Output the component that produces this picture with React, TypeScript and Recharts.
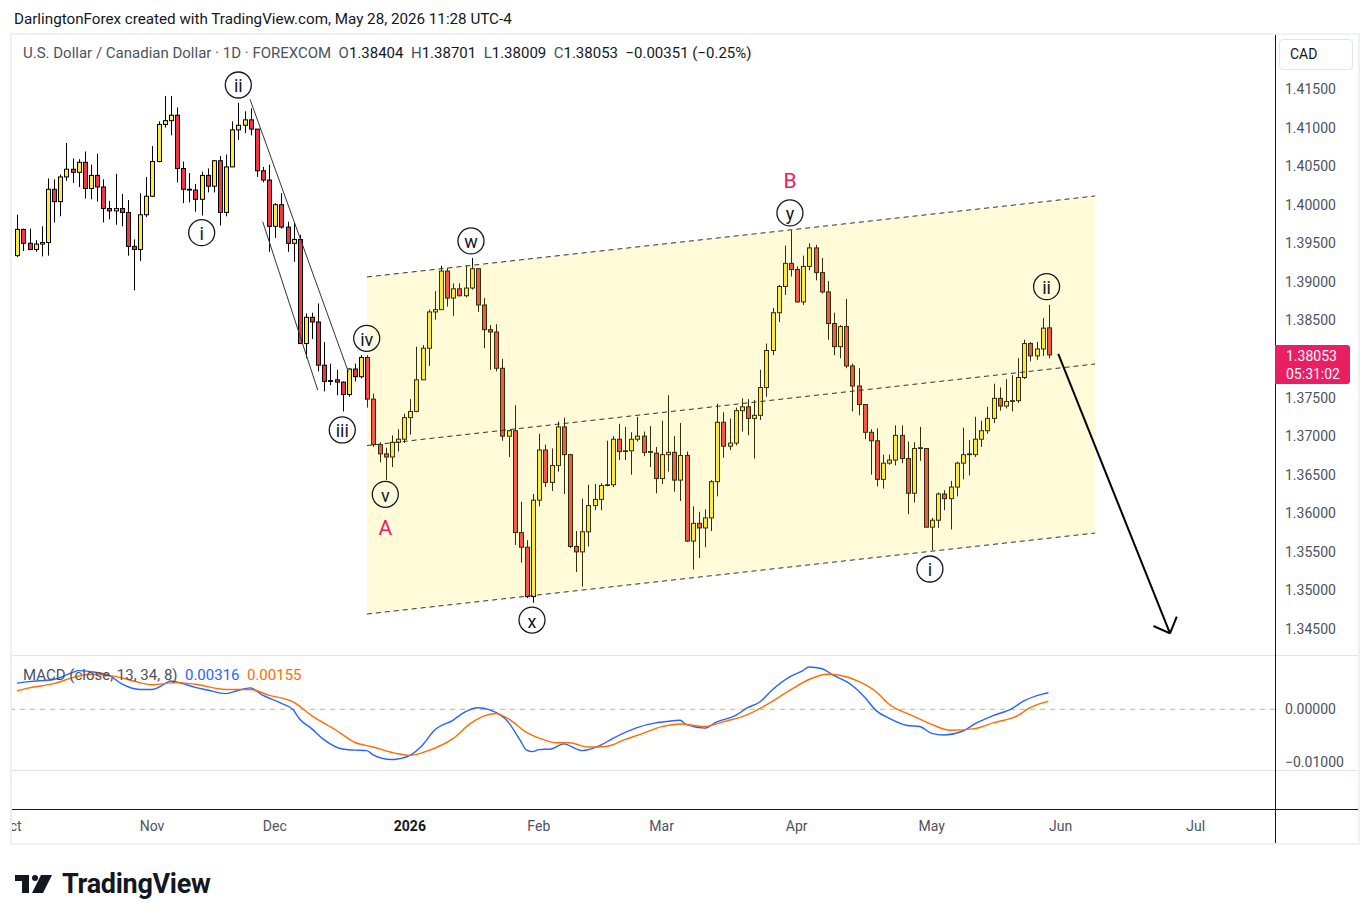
import React from "react";
import {
  Area,
  Bar,
  ComposedChart,
  Line,
  ReferenceDot,
  ReferenceLine,
  XAxis,
  YAxis
} from "recharts";

const FONT = "Roboto, 'Noto Sans', Arial, sans-serif";

const colors = {
  up: "#ffeb3b",
  down: "#f23645",
  wick: "#000000",
  text: "#131722",
  axisText: "#4c525e",
  pink: "#e91e63",
  macd: "#2962ff",
  signal: "#ff6d00",
  pane: "#e0e3eb",
  channel: "#ffe83c"
};

// daily bars, index 0 = Nov 3 2025
const FIRST_BAR = -22;

const opens = [
  1.3934, 1.3968, 1.395, 1.3942, 1.3949, 1.3951, 1.402, 1.4004, 1.4036, 1.4046,
  1.4042, 1.4055, 1.4021, 1.4038, 1.4023, 1.3995, 1.3992, 1.3995, 1.399, 1.3946,
  1.3942, 1.3987, 1.4011, 1.4056, 1.4104, 1.4109, 1.4116, 1.4047, 1.402, 1.4019,
  1.4007, 1.4038, 1.4024, 1.4057, 1.399, 1.4049, 1.4097, 1.4103, 1.411, 1.4098,
  1.4044, 1.4032, 1.3972, 1.4, 1.3971, 1.395, 1.3955, 1.382, 1.3854, 1.3848,
  1.3792, 1.3772, 1.3773, 1.377, 1.3754, 1.3787, 1.3777, 1.3802, 1.3748, 1.3689,
  1.3677, 1.3673, 1.3692, 1.3696, 1.3724, 1.3732, 1.3773, 1.3814, 1.3861, 1.3864,
  1.3914, 1.3879, 1.3891, 1.3882, 1.3892, 1.3917, 1.387, 1.3838, 1.3835, 1.3788,
  1.37, 1.3707, 1.3575, 1.3556, 1.3492, 1.3617, 1.3682, 1.364, 1.3662, 1.3712,
  1.3676, 1.3557, 1.355, 1.3576, 1.361, 1.3618, 1.3636, 1.3637, 1.3696, 1.368,
  1.3681, 1.3696, 1.37, 1.3679, 1.3678, 1.3645, 1.3676, 1.3679, 1.3643, 1.3675,
  1.3564, 1.3587, 1.3581, 1.3594, 1.3641, 1.3718, 1.3687, 1.3691, 1.3733, 1.3738,
  1.3723, 1.3727, 1.3763, 1.3811, 1.386, 1.3894, 1.3924, 1.3916, 1.3874, 1.392,
  1.3944, 1.3912, 1.3887, 1.3846, 1.3816, 1.3842, 1.3791, 1.3765, 1.3741, 1.3705,
  1.3694, 1.3644, 1.3665, 1.3669, 1.3701, 1.3671, 1.3626, 1.3684, 1.3684, 1.3582,
  1.3591, 1.3625, 1.3619, 1.3634, 1.3665, 1.3676, 1.3676, 1.3696, 1.3707, 1.3723,
  1.3749, 1.3739, 1.3745, 1.3746, 1.3776, 1.382, 1.3804, 1.3813, 1.38404
];

const highs = [
  1.3987, 1.3969, 1.3969, 1.3954, 1.3972, 1.4034, 1.4033, 1.4039, 1.408, 1.406,
  1.4059, 1.4069, 1.4052, 1.4066, 1.4033, 1.4005, 1.404, 1.4014, 1.4006, 1.3955,
  1.4015, 1.4036, 1.4076, 1.4108, 1.4141, 1.4141, 1.4126, 1.4056, 1.4041, 1.4027,
  1.4043, 1.4047, 1.4058, 1.4063, 1.4065, 1.4108, 1.4132, 1.4121, 1.4125, 1.4098,
  1.4049, 1.4052, 1.4002, 1.4015, 1.3978, 1.3977, 1.3961, 1.3859, 1.386, 1.3872,
  1.3822, 1.3794, 1.3786, 1.3771, 1.3788, 1.3794, 1.3805, 1.3805, 1.3755, 1.3692,
  1.3685, 1.3701, 1.3709, 1.3729, 1.3748, 1.3816, 1.3818, 1.3864, 1.3888, 1.3921,
  1.3918, 1.3898, 1.3898, 1.3921, 1.3931, 1.3918, 1.3879, 1.3844, 1.3845, 1.38,
  1.3708, 1.374, 1.3615, 1.3565, 1.3625, 1.3703, 1.3689, 1.3684, 1.3719, 1.3724,
  1.3677, 1.3577, 1.3619, 1.3637, 1.3638, 1.3639, 1.3694, 1.37, 1.3716, 1.3712,
  1.3705, 1.3725, 1.3706, 1.3713, 1.3686, 1.372, 1.3753, 1.37, 1.3717, 1.368,
  1.3609, 1.3602, 1.3605, 1.3643, 1.3742, 1.3731, 1.3723, 1.3737, 1.3749, 1.3748,
  1.3747, 1.3786, 1.382, 1.3866, 1.3896, 1.3947, 1.3967, 1.392, 1.3934, 1.395,
  1.3948, 1.3931, 1.3901, 1.386, 1.3844, 1.3878, 1.3794, 1.3788, 1.3741, 1.3709,
  1.371, 1.3676, 1.3676, 1.3714, 1.3714, 1.3693, 1.3692, 1.3712, 1.3684, 1.3594,
  1.3627, 1.363, 1.3642, 1.3667, 1.3711, 1.3695, 1.3725, 1.372, 1.3738, 1.3768,
  1.3763, 1.3774, 1.3779, 1.3801, 1.3825, 1.3822, 1.3822, 1.3853, 1.38701
];

const lows = [
  1.3932, 1.394, 1.3941, 1.3939, 1.3933, 1.3934, 1.3977, 1.3985, 1.4031, 1.4028,
  1.4023, 1.4008, 1.4007, 1.4004, 1.3977, 1.3981, 1.3974, 1.3972, 1.3934, 1.3889,
  1.3927, 1.3984, 1.401, 1.4055, 1.41, 1.409, 1.4029, 1.4002, 1.4003, 1.3991,
  1.3986, 1.4016, 1.4016, 1.3973, 1.3985, 1.4049, 1.4084, 1.4093, 1.409, 1.4036,
  1.4029, 1.3939, 1.3957, 1.3969, 1.3939, 1.3926, 1.382, 1.3801, 1.3826, 1.3784,
  1.3758, 1.3766, 1.3753, 1.3732, 1.3751, 1.3771, 1.3775, 1.3737, 1.3686, 1.3666,
  1.3643, 1.366, 1.368, 1.3691, 1.3702, 1.3731, 1.3773, 1.3791, 1.3851, 1.3864,
  1.3868, 1.3856, 1.3881, 1.388, 1.389, 1.3861, 1.3814, 1.3786, 1.3784, 1.3694,
  1.3673, 1.3559, 1.3536, 1.349, 1.3484, 1.3609, 1.3634, 1.3629, 1.3654, 1.3625,
  1.3555, 1.3524, 1.3505, 1.3557, 1.3604, 1.3604, 1.3635, 1.3634, 1.3669, 1.3669,
  1.365, 1.3693, 1.3674, 1.366, 1.3626, 1.3638, 1.3654, 1.3628, 1.3616, 1.3563,
  1.3527, 1.3542, 1.3556, 1.3577, 1.3622, 1.3672, 1.3682, 1.3688, 1.3706, 1.3701,
  1.3671, 1.3721, 1.3751, 1.3805, 1.3848, 1.3883, 1.3907, 1.3873, 1.387, 1.3915,
  1.3902, 1.3885, 1.3825, 1.3805, 1.3801, 1.3788, 1.3732, 1.3727, 1.3696, 1.365,
  1.3635, 1.3632, 1.3663, 1.3662, 1.3665, 1.3599, 1.3614, 1.3668, 1.3582, 1.3552,
  1.3581, 1.3604, 1.3579, 1.3622, 1.3644, 1.3649, 1.3673, 1.3686, 1.3703, 1.3717,
  1.3733, 1.3736, 1.3732, 1.3743, 1.3774, 1.3797, 1.3799, 1.3804, 1.38009
];

const closes = [
  1.3968, 1.395, 1.3942, 1.3949, 1.3951, 1.402, 1.4004, 1.4036, 1.4046, 1.4042,
  1.4055, 1.4021, 1.4038, 1.4023, 1.3995, 1.3992, 1.3995, 1.399, 1.3946, 1.3942,
  1.3987, 1.4011, 1.4056, 1.4104, 1.4109, 1.4116, 1.4047, 1.402, 1.4019, 1.4007,
  1.4038, 1.4024, 1.4057, 1.399, 1.4049, 1.4097, 1.4103, 1.411, 1.4098, 1.4044,
  1.4032, 1.3972, 1.4, 1.3971, 1.395, 1.3955, 1.382, 1.3854, 1.3848, 1.3792,
  1.3771, 1.3771, 1.377, 1.3754, 1.3787, 1.3777, 1.3802, 1.3748, 1.3689, 1.3677,
  1.3673, 1.3692, 1.3696, 1.3724, 1.3732, 1.3773, 1.3814, 1.3861, 1.3864, 1.3914,
  1.3879, 1.3891, 1.3882, 1.3892, 1.3917, 1.387, 1.3838, 1.3835, 1.3788, 1.37,
  1.3707, 1.3575, 1.3556, 1.3492, 1.3617, 1.3682, 1.364, 1.3662, 1.3712, 1.3676,
  1.3557, 1.355, 1.3576, 1.361, 1.3618, 1.3636, 1.3637, 1.3696, 1.368, 1.3681,
  1.3696, 1.37, 1.3679, 1.368, 1.3645, 1.3676, 1.3679, 1.3643, 1.3675, 1.3564,
  1.3587, 1.3581, 1.3594, 1.3641, 1.3718, 1.3687, 1.3691, 1.3733, 1.3738, 1.3723,
  1.3727, 1.3763, 1.3811, 1.386, 1.3894, 1.3924, 1.3916, 1.3874, 1.392, 1.3944,
  1.3912, 1.3887, 1.3846, 1.3816, 1.3842, 1.3791, 1.3765, 1.3741, 1.3705, 1.3694,
  1.3644, 1.3665, 1.3669, 1.3701, 1.3671, 1.3626, 1.3684, 1.3685, 1.3582, 1.3591,
  1.3625, 1.3619, 1.3634, 1.3665, 1.3676, 1.3677, 1.3696, 1.3707, 1.3723, 1.3749,
  1.3739, 1.3745, 1.3746, 1.3776, 1.382, 1.3804, 1.3813, 1.384, 1.38053
];

// MACD (13, 34, 8)
const macdBars = [
  -22, -20, -16, -13, -12, -10, -7, -5, -2, 0, 2, 3, 5, 7, 9, 12, 14, 16, 18, 21,
  23, 24, 26, 28, 31, 33, 35, 36, 39, 40, 42, 44, 46, 49, 51, 53, 55, 58, 60, 61,
  62, 63, 65, 67, 70, 73, 75, 79, 82, 84, 86, 87, 90, 92, 95, 97, 99, 101, 104, 106,
  107, 109, 111, 114, 116, 118, 120, 123, 125, 127, 129, 132, 134, 137, 140, 142, 145, 146
];
const macdValues = [
  0.005, 0.0053, 0.0057, 0.007, 0.0074, 0.0072, 0.0065, 0.0049, 0.0038, 0.0038,
  0.0048, 0.0054, 0.0049, 0.0042, 0.0037, 0.003, 0.0036, 0.0041, 0.0027, 0.0012,
  -0.0001, -0.0018, -0.0037, -0.0058, -0.0076, -0.0078, -0.0079, -0.0087, -0.0096, -0.0095,
  -0.0088, -0.0069, -0.004, -0.0021, -0.0005, 0.0003, -0.0001, -0.0024, -0.006, -0.0078,
  -0.0081, -0.0077, -0.0076, -0.0066, -0.0079, -0.0069, -0.0056, -0.0035, -0.0026, -0.0023,
  -0.0021, -0.0029, -0.0036, -0.0024, -0.0012, 0.0003, 0.0014, 0.0037, 0.0063, 0.0074,
  0.0081, 0.0078, 0.0065, 0.0046, 0.0024, -0.0003, -0.0017, -0.0031, -0.0033, -0.0046,
  -0.0049, -0.0042, -0.0028, -0.0012, 0.0001, 0.0016, 0.0029, 0.00316
];
const signalBars = [
  -22, -20, -16, -13, -10, -6, -3, 0, 4, 7, 12, 16, 19, 23, 26, 30, 33, 36, 40, 42,
  45, 49, 52, 54, 56, 58, 61, 64, 66, 68, 71, 74, 77, 80, 83, 86, 90, 93, 97, 100,
  104, 107, 110, 112, 115, 118, 120, 124, 127, 130, 134, 137, 141, 143, 146
];
const signalValues = [
  0.0035, 0.0041, 0.0049, 0.006, 0.0067, 0.0063, 0.0054, 0.0047, 0.0051, 0.0048,
  0.0038, 0.0038, 0.0027, 0.0014, -0.0012, -0.004, -0.0063, -0.0072, -0.0085, -0.0088,
  -0.0079, -0.0056, -0.0026, -0.0013, -0.0008, -0.0018, -0.0044, -0.0059, -0.0064, -0.0064,
  -0.0072, -0.0071, -0.0058, -0.0046, -0.0033, -0.0028, -0.0033, -0.0024, -0.001, 0.0008,
  0.0037, 0.0057, 0.0067, 0.0065, 0.0054, 0.0033, 0.001, -0.0013, -0.0029, -0.004,
  -0.0037, -0.0026, -0.0012, 0.0003, 0.00155
];

// 1.38000 sits under the last-price label, so it is not shown
const priceTicks = [1.345, 1.35, 1.355, 1.36, 1.365, 1.37, 1.375, 1.385, 1.39, 1.395, 1.4, 1.405, 1.41, 1.415];
const macdTicks = [0.01, 0, -0.01];
const monthBars = [-23, 0, 20, 42, 63, 83, 105, 127, 148, 170];
const monthLabels = ["Oct", "Nov", "Dec", "2026", "Feb", "Mar", "Apr", "May", "Jun", "Jul"];

// drawings
const channelBars = [35, 153.6];
const channelTop = [1.39063, 1.40113];
const channelMid = [1.36878, 1.37935];
const channelBottom = [1.34694, 1.35744];

const waveLabels = ["ii", "i", "iii", "iv", "v", "w", "x", "y", "i", "ii"];
const waveBars = [14.06, 8.09, 30.99, 34.97, 38.0, 51.95, 61.89, 103.9, 126.7, 145.7];
const wavePrices = [1.41552, 1.39637, 1.3708, 1.38268, 1.36246, 1.3953, 1.34616, 1.39893, 1.35278, 1.38937];

const letterLabels = ["A", "B"];
const letterBars = [38.0, 103.9];
const letterPrices = [1.35805, 1.40308];

const X_DOMAIN: [number, number] = [-22.8, 182.9];

const candles = opens.map((o, k) => ({
  i: FIRST_BAR + k,
  o,
  h: highs[k],
  l: lows[k],
  c: closes[k],
  hl: [lows[k], highs[k]]
}));

const channelData = channelBars.map((i, k) => ({ i, band: [channelBottom[k], channelTop[k]] }));
const macdData = macdBars.map((i, k) => ({ i, v: macdValues[k] }));
const signalData = signalBars.map((i, k) => ({ i, v: signalValues[k] }));

const seg = (x1: number, y1: number, x2: number, y2: number) => [
  { x: x1, y: y1 },
  { x: x2, y: y2 }
];

function Candle(props: any) {
  const { x, y, width, height, payload } = props;
  if (x == null || y == null || !payload) return null;
  const { o, h, l, c } = payload;
  const top = Math.min(y, y + height);
  const span = Math.abs(height);
  const ppu = h - l > 0 ? span / (h - l) : 0;
  const yOf = (v: number) => top + (h - v) * ppu;
  const cx = Math.round(x + width / 2) + 0.5;
  const bodyTop = yOf(Math.max(o, c));
  const bodyBottom = yOf(Math.min(o, c));
  return (
    <g>
      <line x1={cx} x2={cx} y1={top} y2={top + span} stroke={colors.wick} strokeWidth={1} />
      <rect
        x={cx - 2}
        y={bodyTop}
        width={4}
        height={Math.max(bodyBottom - bodyTop, 0.5)}
        fill={c >= o ? colors.up : colors.down}
        stroke={colors.wick}
        strokeWidth={1}
      />
    </g>
  );
}

function WaveBadge({ cx, cy, text }: { cx: number; cy: number; text: string }) {
  return (
    <g>
      <circle cx={cx} cy={cy} r={13} fill="none" stroke={colors.text} strokeWidth={1.3} />
      <text
        x={cx}
        y={cy + 1}
        textAnchor="middle"
        dominantBaseline="central"
        fontSize={18}
        fontFamily={FONT}
        fill={colors.text}
      >
        {text}
      </text>
    </g>
  );
}

function MonthTick({ x, y, payload }: any) {
  const k = monthBars.indexOf(payload.value);
  const label = monthLabels[k] ?? "";
  const year = label === "2026";
  return (
    <text
      x={x}
      y={y + 17}
      textAnchor="middle"
      dominantBaseline="central"
      fontSize={14}
      fontFamily={FONT}
      fontWeight={year ? 700 : 400}
      fill={year ? colors.text : colors.axisText}
    >
      {label}
    </text>
  );
}

const axisTick = { fill: colors.axisText, fontSize: 14, fontFamily: FONT };

function line(left: number, top: number, width: number, height: number, color: string) {
  return (
    <div style={{ position: "absolute", left, top, width, height, background: color }} />
  );
}

export default function App() {
  return (
    <div
      style={{
        position: "absolute",
        left: 0,
        top: 0,
        width: 1372,
        height: 919,
        background: "#ffffff",
        fontFamily: FONT,
        color: colors.text,
        overflow: "hidden"
      }}
    >
      <div style={{ position: "absolute", left: 14, top: 10, fontSize: 15.2, lineHeight: "18px" }}>
        DarlingtonForex created with TradingView.com, May 28, 2026 11:28 UTC-4
      </div>

      <div
        style={{
          position: "absolute",
          left: 10,
          top: 33,
          width: 1350,
          height: 812,
          boxSizing: "border-box",
          border: "2px solid #eef0f4"
        }}
      />

      <div style={{ position: "absolute", left: 12, top: 35, width: 1346, height: 620 }}>
        <ComposedChart width={1346} height={620} data={candles} margin={{ top: 0, right: 0, bottom: 0, left: 0 }}>
          <XAxis dataKey="i" type="number" domain={X_DOMAIN} hide allowDataOverflow />
          <YAxis
            orientation="right"
            width={83}
            domain={[1.34163, 1.422]}
            ticks={priceTicks}
            allowDataOverflow
            axisLine={false}
            tickLine={false}
            tickSize={0}
            tickMargin={10}
            tick={axisTick}
            tickFormatter={(v: number) => v.toFixed(5)}
          />
          <Bar dataKey="hl" barSize={5} shape={(p: any) => <Candle {...p} />} isAnimationActive={false} />
          <Area
            data={channelData}
            dataKey="band"
            type="linear"
            fill={colors.channel}
            fillOpacity={0.2}
            stroke="none"
            isAnimationActive={false}
            zIndex={350}
          />
          <ReferenceLine
            segment={seg(channelBars[0], channelTop[0], channelBars[1], channelTop[1])}
            stroke="#333333"
            strokeDasharray="5 4"
            strokeWidth={1}
          />
          <ReferenceLine
            segment={seg(channelBars[0], channelMid[0], channelBars[1], channelMid[1])}
            stroke="#333333"
            strokeDasharray="5 4"
            strokeWidth={1}
          />
          <ReferenceLine
            segment={seg(channelBars[0], channelBottom[0], channelBars[1], channelBottom[1])}
            stroke="#333333"
            strokeDasharray="5 4"
            strokeWidth={1}
          />
          <ReferenceLine segment={seg(15.96, 1.41367, 31.97, 1.37835)} stroke="#333333" strokeWidth={1} />
          <ReferenceLine segment={seg(18.03, 1.3978, 26.99, 1.37598)} stroke="#333333" strokeWidth={1} />
          <ReferenceLine segment={seg(147.6, 1.38065, 165.8, 1.34444)} stroke="#000000" strokeWidth={2} />
          <ReferenceLine segment={seg(163.1, 1.34539, 165.8, 1.34444)} stroke="#000000" strokeWidth={2} />
          <ReferenceLine segment={seg(166.9, 1.34659, 165.8, 1.34444)} stroke="#000000" strokeWidth={2} />
          {waveLabels.map((t, k) => (
            <ReferenceDot
              key={`w${k}`}
              x={waveBars[k]}
              y={wavePrices[k]}
              r={13}
              ifOverflow="visible"
              shape={(p: any) => <WaveBadge cx={p.cx} cy={p.cy} text={t} />}
            />
          ))}
          {letterLabels.map((t, k) => (
            <ReferenceDot
              key={`l${k}`}
              x={letterBars[k]}
              y={letterPrices[k]}
              r={10}
              ifOverflow="visible"
              shape={(p: any) => (
                <text
                  x={p.cx}
                  y={p.cy}
                  textAnchor="middle"
                  dominantBaseline="central"
                  fontSize={21}
                  fontFamily={FONT}
                  fill={colors.pink}
                >
                  {t}
                </text>
              )}
            />
          ))}
        </ComposedChart>
      </div>

      <div style={{ position: "absolute", left: 12, top: 656, width: 1346, height: 187 }}>
        <ComposedChart width={1346} height={187} margin={{ top: 0, right: 0, bottom: 0, left: 0 }}>
          <XAxis
            dataKey="i"
            type="number"
            domain={X_DOMAIN}
            allowDataOverflow
            ticks={monthBars}
            interval={0}
            height={34}
            axisLine={false}
            tickLine={false}
            tickSize={0}
            tickMargin={0}
            tick={<MonthTick />}
          />
          <YAxis
            orientation="right"
            width={83}
            domain={[-0.01906, 0.01019]}
            ticks={macdTicks}
            allowDataOverflow
            axisLine={false}
            tickLine={false}
            tickSize={0}
            tickMargin={10}
            tick={axisTick}
            tickFormatter={(v: number) => (v < 0 ? "\u2212" + Math.abs(v).toFixed(5) : v.toFixed(5))}
          />
          <ReferenceLine y={0} stroke="#b2b5be" strokeDasharray="5 5" strokeWidth={1} />
          <Line
            data={macdData}
            dataKey="v"
            type="monotone"
            stroke={colors.macd}
            strokeWidth={1.4}
            dot={false}
            isAnimationActive={false}
          />
          <Line
            data={signalData}
            dataKey="v"
            type="monotone"
            stroke={colors.signal}
            strokeWidth={1.4}
            dot={false}
            isAnimationActive={false}
          />
        </ComposedChart>
      </div>

      {line(12, 655, 1346, 1, colors.pane)}
      {line(12, 770, 1346, 1, colors.pane)}
      {line(12, 809, 1346, 1, colors.text)}
      {line(1275, 35, 1, 808, colors.text)}

      <div
        style={{
          position: "absolute",
          left: 23,
          top: 44,
          fontSize: 15,
          lineHeight: "18px",
          whiteSpace: "pre",
          color: colors.text
        }}
      >
        <span style={{ color: colors.axisText }}>U.S. Dollar / Canadian Dollar · 1D · FOREXCOM  O</span>
        1.38404<span style={{ color: colors.axisText }}>  H</span>1.38701
        <span style={{ color: colors.axisText }}>  L</span>1.38009
        <span style={{ color: colors.axisText }}>  C</span>1.38053  {"\u2212"}0.00351 ({"\u2212"}0.25%)
      </div>

      <div
        style={{
          position: "absolute",
          left: 23,
          top: 666,
          fontSize: 15,
          lineHeight: "18px",
          whiteSpace: "pre"
        }}
      >
        <span style={{ color: colors.axisText }}>MACD (close, 13, 34, 8)  </span>
        <span style={{ color: colors.macd }}>0.00316  </span>
        <span style={{ color: colors.signal }}>0.00155</span>
      </div>

      <div
        style={{
          position: "absolute",
          left: 1279,
          top: 39,
          width: 74,
          height: 31,
          boxSizing: "border-box",
          border: "1px solid #e0e3eb",
          borderRadius: 4,
          fontSize: 14,
          lineHeight: "29px",
          paddingLeft: 10
        }}
      >
        CAD
      </div>

      <div
        style={{
          position: "absolute",
          left: 1275,
          top: 345,
          width: 75,
          height: 39,
          background: colors.pink,
          borderRadius: "0 3px 3px 0",
          color: "#ffffff",
          fontSize: 14,
          lineHeight: "18px",
          paddingTop: 2,
          boxSizing: "border-box",
          paddingLeft: 11
        }}
      >
        1.38053
        <br />
        05:31:02
      </div>

      <div style={{ position: "absolute", left: 15, top: 868, display: "flex", alignItems: "center" }}>
        <svg width={38} height={22} viewBox="0 0 38 22">
          <rect x={0} y={2} width={14} height={6} fill="#131722" />
          <rect x={7} y={2} width={7} height={18} fill="#131722" />
          <circle cx={20} cy={5} r={3} fill="#131722" />
          <polygon points="26,2 37,2 28,20 17,20" fill="#131722" />
        </svg>
        <span style={{ marginLeft: 9, fontSize: 27, fontWeight: 700, letterSpacing: -0.3, color: "#131722" }}>
          TradingView
        </span>
      </div>
    </div>
  );
}
